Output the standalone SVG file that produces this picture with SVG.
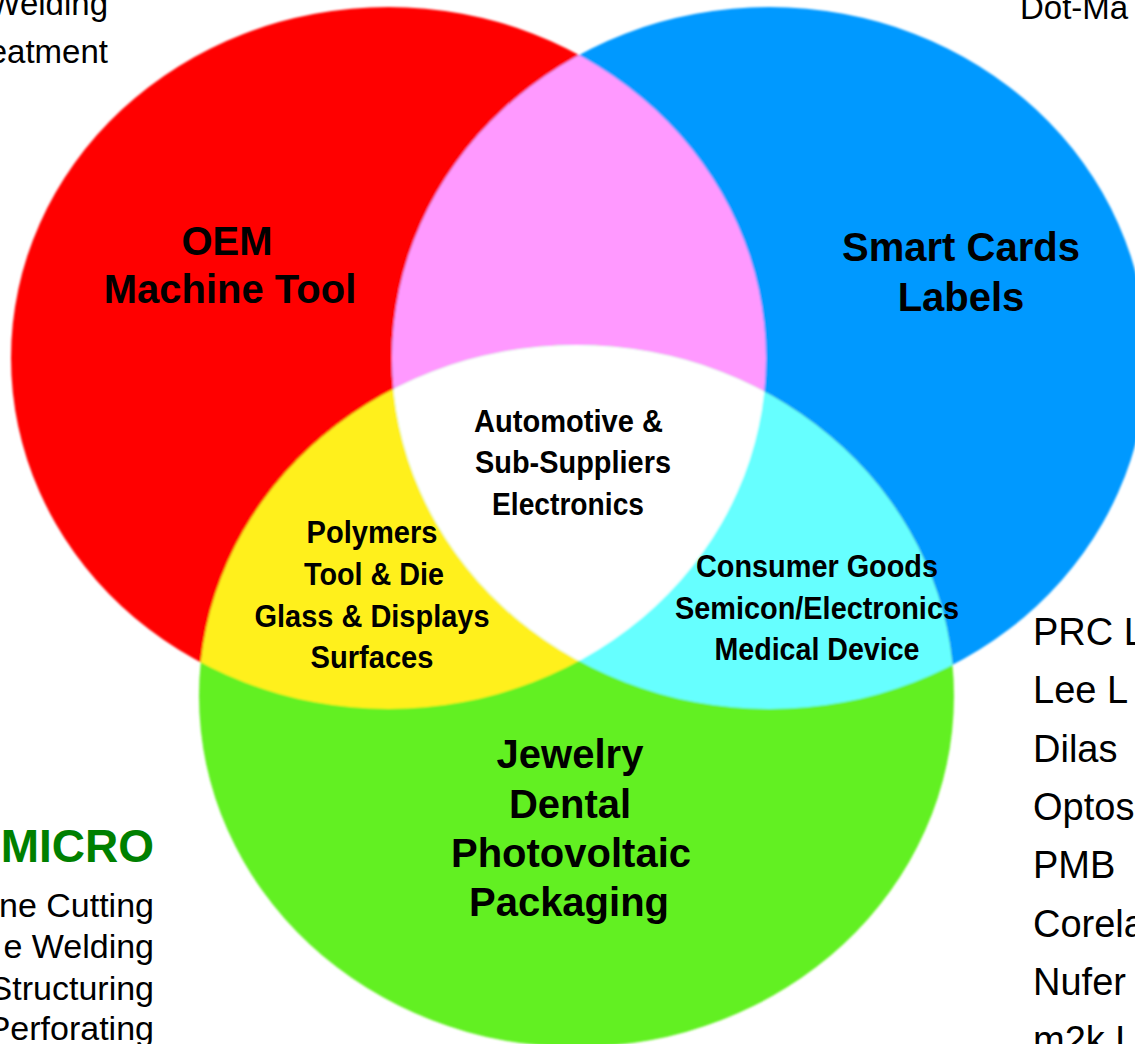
<svg xmlns="http://www.w3.org/2000/svg" width="1135" height="1044" viewBox="0 0 1135 1044">
  <style>
    .big { font-family: "Liberation Sans", Arial, sans-serif; font-weight: bold; font-size: 40px; fill: #000; text-anchor: middle; }
    .nar { font-family: "Liberation Sans Narrow", "Arial Narrow", "Liberation Sans", Arial, sans-serif; font-weight: bold; font-size: 32px; fill: #000; text-anchor: middle; }
    .side { font-family: "Liberation Sans", Arial, sans-serif; font-size: 33px; fill: #000; }
    .low { font-size: 34px; }
    .list { font-family: "Liberation Sans", Arial, sans-serif; font-size: 38px; fill: #000; }
    .micro { font-family: "Liberation Sans", Arial, sans-serif; font-weight: bold; font-size: 46px; fill: #008000; text-anchor: end; }
  </style>
  <defs>
    <ellipse id="eRed" cx="388.5" cy="358" rx="377.5" ry="351"/>
    <ellipse id="eBlue" cx="769.5" cy="358" rx="377.5" ry="351"/>
    <ellipse id="eGreen" cx="576.5" cy="696" rx="377.5" ry="351"/>
    <clipPath id="cRed"><use href="#eRed"/></clipPath>
    <clipPath id="cBlue"><use href="#eBlue"/></clipPath>
    <filter id="soft" x="-5%" y="-5%" width="110%" height="110%">
      <feGaussianBlur stdDeviation="1.2"/>
    </filter>
  </defs>
  <rect width="1135" height="1044" fill="#ffffff"/>

  <g id="venn" filter="url(#soft)">
    <g id="red-circle"><use href="#eRed" fill="#FF0000"/></g>
    <g id="blue-circle"><use href="#eBlue" fill="#0099FF"/></g>
    <g id="green-circle"><use href="#eGreen" fill="#62F022"/></g>
    <g id="red-blue"><g clip-path="url(#cRed)"><use href="#eBlue" fill="#FF99FF"/></g></g>
    <g id="red-green"><g clip-path="url(#cRed)"><use href="#eGreen" fill="#FFF01E"/></g></g>
    <g id="blue-green"><g clip-path="url(#cBlue)"><use href="#eGreen" fill="#66FFFF"/></g></g>
    <g id="center"><g clip-path="url(#cRed)"><g clip-path="url(#cBlue)"><use href="#eGreen" fill="#FFFFFF"/></g></g></g>
  </g>

  <g id="label-oem">
    <text class="big" x="227" y="255">OEM</text>
    <text class="big" x="230" y="303">Machine Tool</text>
  </g>
  <g id="label-smart">
    <text class="big" x="961" y="261">Smart Cards</text>
    <text class="big" x="961" y="311">Labels</text>
  </g>
  <g id="label-jewelry">
    <text class="big" x="570" y="768">Jewelry</text>
    <text class="big" x="570" y="818">Dental</text>
    <text class="big" x="571" y="867">Photovoltaic</text>
    <text class="big" x="569" y="916">Packaging</text>
  </g>
  <g id="label-center">
    <text class="nar" x="568.5" y="432" textLength="189" lengthAdjust="spacingAndGlyphs">Automotive &amp;</text>
    <text class="nar" x="573" y="473" textLength="196" lengthAdjust="spacingAndGlyphs">Sub-Suppliers</text>
    <text class="nar" x="568" y="515" textLength="152" lengthAdjust="spacingAndGlyphs">Electronics</text>
  </g>
  <g id="label-yellow">
    <text class="nar" x="372" y="543" textLength="131" lengthAdjust="spacingAndGlyphs">Polymers</text>
    <text class="nar" x="374" y="585" textLength="140" lengthAdjust="spacingAndGlyphs">Tool &amp; Die</text>
    <text class="nar" x="372" y="627" textLength="235" lengthAdjust="spacingAndGlyphs">Glass &amp; Displays</text>
    <text class="nar" x="372" y="668" textLength="123" lengthAdjust="spacingAndGlyphs">Surfaces</text>
  </g>
  <g id="label-cyan">
    <text class="nar" x="817" y="577" textLength="242" lengthAdjust="spacingAndGlyphs">Consumer Goods</text>
    <text class="nar" x="817" y="619" textLength="284" lengthAdjust="spacingAndGlyphs">Semicon/Electronics</text>
    <text class="nar" x="817" y="660" textLength="205" lengthAdjust="spacingAndGlyphs">Medical Device</text>
  </g>

  <g id="top-left-list">
    <text class="side" x="108" y="15" text-anchor="end">Welding</text>
    <text class="side" x="108" y="63" text-anchor="end">eatment</text>
  </g>
  <g id="top-right-list">
    <text class="side" x="1020" y="19">Dot-Ma</text>
  </g>
  <g id="micro-list">
    <text class="micro" x="154" y="862">MICRO</text>
    <text class="side low" x="154" y="917" text-anchor="end">ne Cutting</text>
    <text class="side low" x="154" y="958" text-anchor="end">e Welding</text>
    <text class="side low" x="154" y="1000" text-anchor="end">Structuring</text>
    <text class="side low" x="154" y="1040" text-anchor="end">Perforating</text>
  </g>
  <g id="right-list">
    <text class="list" x="1033" y="645">PRC L</text>
    <text class="list" x="1033" y="703">Lee  L</text>
    <text class="list" x="1033" y="762">Dilas</text>
    <text class="list" x="1033" y="820">Optos</text>
    <text class="list" x="1033" y="878">PMB</text>
    <text class="list" x="1033" y="937">Corela</text>
    <text class="list" x="1033" y="995">Nufer</text>
    <text class="list" x="1033" y="1053">m2k L</text>
  </g>
</svg>
